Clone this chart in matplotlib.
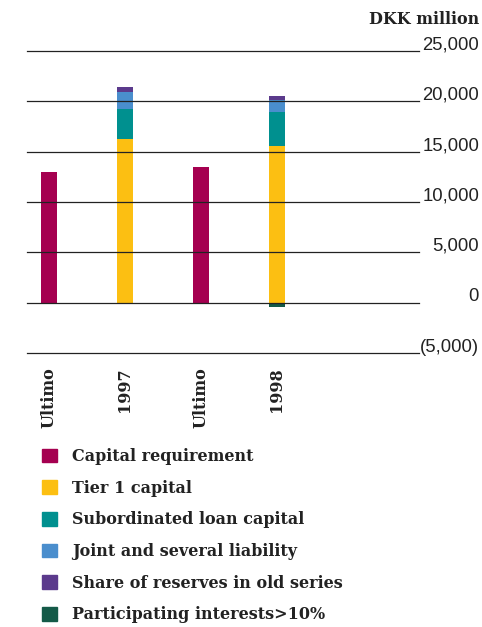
import matplotlib.pyplot as plt
from matplotlib.patches import Patch
from matplotlib.transforms import blended_transform_factory, offset_copy

# capital figures, DKK million
columns = ['Ultimo', '1997', 'Ultimo', '1998']
capital_requirement = [12950, 0, 13450, 0]
tier1_capital = [0, 16250, 0, 15550]
subordinated_loan = [0, 2980, 0, 3380]
joint_liability = [0, 1700, 0, 1200]
reserves_old_series = [0, 500, 0, 400]
participating_interests = [0, 0, 0, -470]

yticks = [-5000, 0, 5000, 10000, 15000, 20000, 25000]
ytick_labels = ['(5,000)', '0', '5,000', '10,000', '15,000', '20,000', '25,000']

series = [
    ('Capital requirement', capital_requirement, '#a50050'),
    ('Tier 1 capital', tier1_capital, '#fcbf12'),
    ('Subordinated loan capital', subordinated_loan, '#00908f'),
    ('Joint and several liability', joint_liability, '#4a8ecd'),
    ('Share of reserves in old series', reserves_old_series, '#5b3a8c'),
    ('Participating interests>10%', participating_interests, '#145a48'),
]

W, H = 482, 627
fig = plt.figure(figsize=(W / 100, H / 100), dpi=100)
ax = fig.add_axes([27 / W, 274 / H, 392 / W, 302 / H])

x = list(range(len(columns)))
pos_base = [0] * len(columns)
neg_base = [0] * len(columns)
for name, vals, col in series:
    bottoms = []
    for i, v in enumerate(vals):
        if v >= 0:
            bottoms.append(pos_base[i])
            pos_base[i] += v
        else:
            bottoms.append(neg_base[i])
            neg_base[i] += v
    ax.bar(x, vals, width=0.21, bottom=bottoms, color=col, zorder=2)

ax.set_xlim(-0.29, 4.87)
ax.set_ylim(-5000, 25000)

for yv in yticks:
    ax.axhline(yv, color='#222222', lw=0.9, zorder=3, clip_on=False)

trans = blended_transform_factory(fig.transFigure, ax.transData)
trans = offset_copy(trans, fig=fig, x=0, y=6, units='dots')
for yv, lab in zip(yticks, ytick_labels):
    ax.text(479 / W, yv, lab, transform=trans, ha='right', va='center',
            fontsize=13.3, family='Liberation Sans', color='#222222')

for s in ax.spines.values():
    s.set_visible(False)
ax.set_yticks([])
ax.set_xticks(x, columns, rotation=90, family='DejaVu Serif',
              fontweight='bold', fontsize=11.5, color='#222222')
ax.tick_params(axis='x', length=0, pad=10)

fig.text(479 / W, 1 - 20 / H, 'DKK million', ha='right', va='center',
         family='DejaVu Serif', fontweight='bold', fontsize=11.5,
         color='#222222')

handles = [Patch(color=col, label=name) for name, vals, col in series]
fig.legend(handles=handles, loc='upper left',
           bbox_to_anchor=(42 / W, 1 - 448 / H), frameon=False,
           prop={'family': 'DejaVu Serif', 'weight': 'bold', 'size': 11.5},
           handlelength=0.95, handleheight=0.95, handletextpad=0.95,
           labelspacing=0.92, borderpad=0, borderaxespad=0,
           labelcolor='#222222')

fig.savefig('out.png', dpi=100)
